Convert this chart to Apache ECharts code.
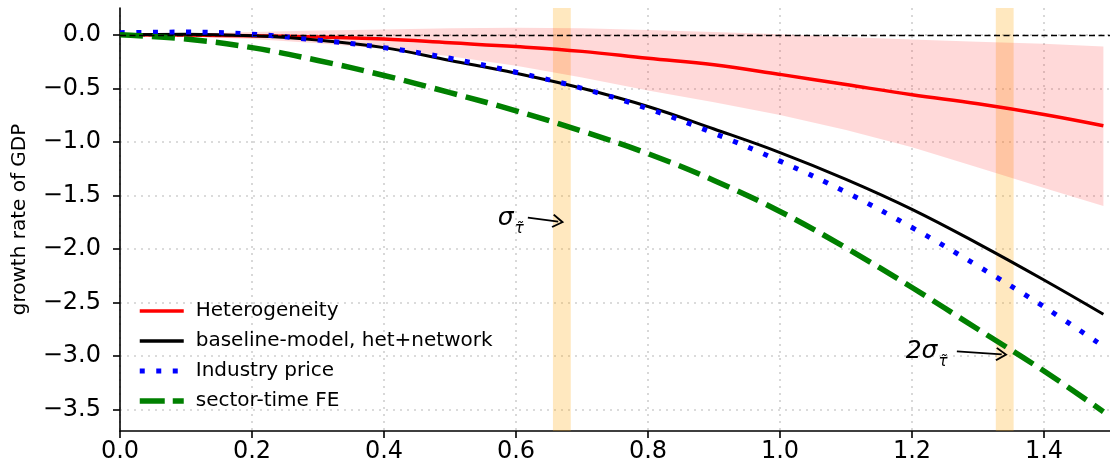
<!DOCTYPE html>
<html>
<head>
<meta charset="utf-8">
<script src="https://cdn.jsdelivr.net/npm/echarts@6/dist/echarts.min.js"></script>
<style>
  html, body { margin: 0; padding: 0; background: #fff; }
  #chart { width: 1110px; height: 472px; }
</style>
</head>
<body>
<div id="chart"></div>
<script>
// values
const xVals = [0, 0.1, 0.2, 0.3, 0.4, 0.5, 0.6, 0.7, 0.8, 0.9, 1.0, 1.1, 1.2, 1.3, 1.4, 1.49];
const heterogeneity = [0, -0.003, -0.01, -0.02, -0.04, -0.075, -0.11, -0.155, -0.22, -0.28, -0.37, -0.465, -0.56, -0.645, -0.745, -0.85];
const heteroUpper = [0, 0.01, 0.025, 0.04, 0.05, 0.06, 0.065, 0.06, 0.045, 0.025, 0.005, -0.02, -0.045, -0.065, -0.085, -0.11];
const heteroLower = [0, -0.015, -0.04, -0.08, -0.13, -0.2, -0.29, -0.4, -0.52, -0.63, -0.75, -0.89, -1.05, -1.24, -1.43, -1.6];
const baseline = [0, 0.005, -0.01, -0.05, -0.12, -0.24, -0.36, -0.5, -0.67, -0.88, -1.1, -1.35, -1.63, -1.95, -2.29, -2.61];
const industryPrice = [0.02, 0.025, 0.005, -0.05, -0.12, -0.22, -0.35, -0.5, -0.69, -0.92, -1.18, -1.47, -1.8, -2.16, -2.54, -2.91];
const sectorTimeFE = [0, -0.04, -0.12, -0.24, -0.38, -0.54, -0.71, -0.9, -1.11, -1.36, -1.65, -1.99, -2.36, -2.75, -3.14, -3.52];

const xTicks = [0, 0.2, 0.4, 0.6, 0.8, 1.0, 1.2, 1.4];
const yTicks = [-3.5, -3.0, -2.5, -2.0, -1.5, -1.0, -0.5, 0.0];

// shaded sigma bands [from, to] on x
const sigmaBands = [[0.656, 0.683], [1.327, 1.354]];
// annotation text positions and arrows
const sigmaLabels = [
  { text: '{s|σ}{t|τ̃}', at: [0.592, -1.69] },
  { text: '{s|2σ}{t|τ̃}', at: [1.222, -2.93] }
];
const sigmaArrows = [
  [[0.618, -1.707], [0.664, -1.744]],
  [[1.268, -2.957], [1.336, -2.985]]
];

const fmt = v => v.toFixed(1).replace('-', '\u2212');
const pairs = ys => xVals.map((x, i) => [x, ys[i]]);

const chart = echarts.init(document.getElementById('chart'));

const chevron = 'path://M0,0 L7,9 L5.6,10 L0,2.8 L-5.6,10 L-7,9 Z';

// confidence band of the heterogeneity curve, drawn as one polygon
function renderBand(params, api) {
  const top = xVals.map((x, i) => api.coord([x, heteroUpper[i]]));
  const bottom = xVals.map((x, i) => api.coord([x, heteroLower[i]])).reverse();
  return {
    type: 'polygon',
    shape: { points: top.concat(bottom) },
    style: { fill: 'rgba(255,0,0,0.15)' }
  };
}

const option = {
  animation: false,
  textStyle: { fontFamily: 'DejaVu Sans' },
  grid: { left: 120, top: 8, right: 0, bottom: 41 },
  legend: {
    left: 137,
    top: 301,
    padding: 0,
    orient: 'vertical',
    itemWidth: 44,
    itemHeight: 14,
    itemGap: 10,
    itemStyle: { opacity: 0 },
    textStyle: { fontSize: 20, color: '#000', padding: [0, 0, 0, 7] },
    data: [
      { name: 'Heterogeneity', lineStyle: { color: 'red', width: 3.5, type: 'solid' } },
      { name: 'baseline-model, het+network', lineStyle: { color: '#000', width: 3.5, type: 'solid' } },
      { name: 'Industry price', lineStyle: { color: 'blue', width: 5, type: [5, 11.5], cap: 'butt' } },
      { name: 'sector-time FE', lineStyle: { color: 'green', width: 5.5, type: [25, 8], cap: 'butt' } }
    ]
  },
  xAxis: {
    type: 'value',
    min: 0,
    max: 1.5,
    axisLine: { onZero: false, lineStyle: { color: '#000', width: 1.6 } },
    axisTick: { show: true, length: 7, lineStyle: { color: '#000', width: 1.6 }, customValues: xTicks },
    axisLabel: { fontSize: 24, color: '#000', margin: 9, formatter: fmt, customValues: xTicks },
    splitLine: { show: true, lineStyle: { color: '#cfcfcf', width: 1.6, type: [2, 5] } }
  },
  yAxis: {
    type: 'value',
    min: -3.7,
    max: 0.25,
    name: 'growth rate of GDP',
    nameLocation: 'middle',
    nameGap: 90,
    nameTextStyle: { fontSize: 20, color: '#000' },
    axisLine: { show: true, onZero: false, lineStyle: { color: '#000', width: 1.6 } },
    axisTick: { show: true, length: 7, lineStyle: { color: '#000', width: 1.6 }, customValues: yTicks },
    axisLabel: { fontSize: 24, color: '#000', margin: 19, formatter: fmt, customValues: yTicks },
    splitLine: { show: true, lineStyle: { color: '#cfcfcf', width: 1.6, type: [2, 5] } }
  },
  series: [
    {
      name: 'band',
      type: 'custom',
      renderItem: renderBand,
      data: [0],
      silent: true,
      clip: true,
      z: 1,
      markArea: {
        silent: true,
        itemStyle: { color: 'rgba(255,165,0,0.25)' },
        data: sigmaBands.map(b => [{ xAxis: b[0] }, { xAxis: b[1] }])
      },
      markLine: {
        silent: true,
        symbol: 'none',
        label: { show: false },
        lineStyle: { color: '#000', width: 1.3, type: [6, 3.5] },
        data: [{ yAxis: 0 }]
      }
    },
    {
      name: 'Heterogeneity',
      type: 'line',
      data: pairs(heterogeneity),
      smooth: 0.4,
      symbol: 'none',
      lineStyle: { color: 'red', width: 3.5 },
      itemStyle: { color: 'red' },
      z: 3
    },
    {
      name: 'baseline-model, het+network',
      type: 'line',
      data: pairs(baseline),
      smooth: 0.4,
      symbol: 'none',
      lineStyle: { color: '#000', width: 3 },
      itemStyle: { color: '#000' },
      z: 3
    },
    {
      name: 'Industry price',
      type: 'line',
      data: pairs(industryPrice),
      smooth: 0.4,
      symbol: 'none',
      lineStyle: { color: 'blue', width: 5, type: [5, 11.5], cap: 'butt' },
      itemStyle: { color: 'blue' },
      z: 4
    },
    {
      name: 'sector-time FE',
      type: 'line',
      data: pairs(sectorTimeFE),
      smooth: 0.4,
      symbol: 'none',
      lineStyle: { color: 'green', width: 5.5, type: [23, 9], cap: 'butt' },
      itemStyle: { color: 'green' },
      z: 4,
      markLine: {
        silent: true,
        symbol: ['none', chevron],
        symbolSize: [14, 12],
        label: { show: false },
        lineStyle: { color: '#000', width: 1.8, type: 'solid' },
        data: sigmaArrows.map(a => [{ coord: a[0] }, { coord: a[1] }])
      },
      markPoint: {
        silent: true,
        symbol: 'circle',
        symbolSize: 1,
        itemStyle: { color: 'rgba(0,0,0,0)' },
        label: {
          show: true,
          position: 'inside',
          color: '#000',
          rich: {
            s: { fontSize: 25, fontStyle: 'italic', fontFamily: 'DejaVu Sans', color: '#000', lineHeight: 30, verticalAlign: 'bottom' },
            t: { fontSize: 15, fontStyle: 'italic', fontFamily: 'DejaVu Sans', color: '#000', lineHeight: 30, verticalAlign: 'bottom', padding: [0, 0, -6, 1] }
          }
        },
        data: sigmaLabels.map(l => ({ coord: l.at, label: { formatter: l.text } }))
      }
    }
  ]
};

chart.setOption(option);
</script>
</body>
</html>
